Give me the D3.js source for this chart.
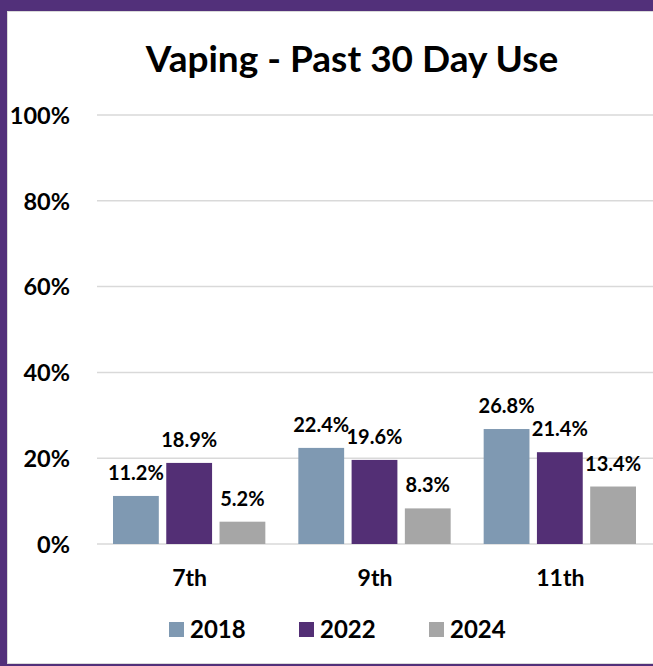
<!DOCTYPE html>
<html>
<head>
<meta charset="utf-8">
<script src="https://cdn.jsdelivr.net/npm/d3@7"></script>
<style>
  body { margin: 0; background: #52307a; }
  #chart { width: 653px; height: 666px; }
  text { font-family: Lato, "Open Sans", sans-serif; font-weight: bold; fill: #000; }
</style>
</head>
<body>
<div id="chart"></div>
<script>
// chart data
const grades = ["7th", "9th", "11th"];
const years = ["2018", "2022", "2024"];
const values2018 = [11.2, 22.4, 26.8];
const values2022 = [18.9, 19.6, 21.4];
const values2024 = [5.2, 8.3, 13.4];
const yTicks = [0, 20, 40, 60, 80, 100];
const colors = ["#7f99b2", "#532f75", "#a6a6a6"];

const series = [values2018, values2022, values2024];

const W = 653, H = 666;
const margin = { top: 115, right: 0, bottom: 122, left: 97 };
const width = W - margin.left - margin.right;
const height = H - margin.top - margin.bottom;

const svg = d3.select('#chart')
    .append('svg')
    .attr('width', W)
    .attr('height', H);

// white panel with thin grey edge
svg.append('rect')
    .attr('x', 7.5).attr('y', 11.5)
    .attr('width', W - 7).attr('height', H - 14)
    .style('fill', '#fff')
    .style('stroke', '#d9d9d9')
    .style('stroke-width', 1);

svg.append('text')
    .attr('x', 352)
    .attr('y', 72)
    .attr('text-anchor', 'middle')
    .style('font-size', '37px')
    .text('Vaping - Past 30 Day Use');

const g = svg.append('g')
    .attr('transform', `translate(${margin.left}, ${margin.top})`);

const x = d3.scaleBand()
    .domain(grades)
    .range([0, width])
    .paddingInner(0)
    .paddingOuter(0);

const x1 = d3.scaleBand()
    .domain(years)
    .range([16, x.bandwidth() - 17])
    .paddingInner(0.14);

const y = d3.scaleLinear()
    .domain([0, 100])
    .range([height, 0]);

// gridlines
g.selectAll('.grid')
    .data(yTicks)
    .enter()
    .append('line')
    .attr('x1', 0)
    .attr('x2', width)
    .attr('y1', d => y(d))
    .attr('y2', d => y(d))
    .style('stroke', '#d9d9d9')
    .style('stroke-width', 1.5);

// y axis labels
const yAxis = d3.axisLeft(y)
    .tickValues(yTicks)
    .tickFormat(d => d + '%')
    .tickSize(0)
    .tickPadding(27);

g.append('g')
    .attr('class', 'axis y')
    .call(yAxis)
    .call(a => a.select('.domain').remove())
    .selectAll('text')
    .style('font-size', '23.5px')
    .attr('dy', '0.35em');

// x axis labels
const xAxis = d3.axisBottom(x).tickSize(0).tickPadding(26);
g.append('g')
    .attr('class', 'axis x')
    .attr('transform', `translate(0,${height})`)
    .call(xAxis)
    .call(a => a.select('.domain').remove())
    .selectAll('text')
    .style('font-size', '23px');

// bars
const groups = g.selectAll('.grade')
    .data(grades)
    .enter()
    .append('g')
    .attr('transform', d => `translate(${x(d)},0)`);

groups.selectAll('rect')
    .data((d, i) => years.map((yr, j) => ({ year: yr, value: series[j][i], color: colors[j] })))
    .enter()
    .append('rect')
    .attr('x', d => x1(d.year))
    .attr('y', d => y(d.value))
    .attr('width', x1.bandwidth())
    .attr('height', d => height - y(d.value))
    .style('fill', d => d.color);

groups.selectAll('.lbl')
    .data((d, i) => years.map((yr, j) => ({ year: yr, value: series[j][i] })))
    .enter()
    .append('text')
    .attr('class', 'lbl')
    .attr('x', d => x1(d.year) + x1.bandwidth() / 2)
    .attr('y', d => y(d.value) - 16)
    .attr('text-anchor', 'middle')
    .style('font-size', '20px')
    .text(d => d.value.toFixed(1) + '%');

// legend
const legendX = [169, 299, 429];
const legend = svg.selectAll('.legend')
    .data(years)
    .enter()
    .append('g')
    .attr('class', 'legend')
    .attr('transform', (d, i) => `translate(${legendX[i]}, 622)`);

legend.append('rect')
    .attr('width', 15)
    .attr('height', 15)
    .style('fill', (d, i) => colors[i]);

legend.append('text')
    .attr('x', 21)
    .attr('y', 16)
    .style('font-size', '24px')
    .text(d => d);
</script>
</body>
</html>
